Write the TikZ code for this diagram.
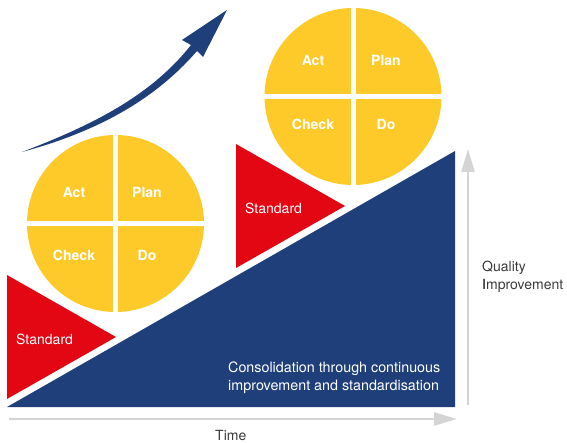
\documentclass[tikz,border=0pt]{standalone}
\usepackage{fontspec}
\setmainfont{TeX Gyre Heros}
\usetikzlibrary{arrows.meta,positioning}

\definecolor{pdcablue}{HTML}{1E3F7A}
\definecolor{pdcared}{HTML}{E30613}
\definecolor{pdcayellow}{HTML}{FDCA2A}
\definecolor{axisgray}{HTML}{D4D4D4}
\definecolor{labelgray}{HTML}{3A3A3A}

\begin{document}
\begin{tikzpicture}[x=1pt,y=-1pt,font=\fontsize{14}{18}\selectfont,
    cycle/.style={circle,fill=pdcayellow,minimum size=177pt,inner sep=0pt},
    quarter/.style={text=white,font=\fontsize{14}{16}\selectfont\bfseries,inner sep=0pt},
    gap/.style={white,line width=5pt},
    std/.style={text=white,anchor=west,inner sep=0pt},
    axis/.style={draw=axisgray,line width=2.6pt,-{Triangle[length=23pt,width=13pt]}},
    axislabel/.style={text=labelgray,anchor=west,align=left,inner sep=0pt}]
    \useasboundingbox (0,0) rectangle (567,443);

    \fill[pdcared]  (7,275) -- (116,337) -- (7,399) -- cycle;
    \fill[pdcared]  (236,144) -- (345,206) -- (236,268) -- cycle;
    \fill[pdcablue] (7,407) -- (455,151) -- (455,407) -- cycle;

    \fill[pdcablue] (22,152) .. controls (90,126) and (150,97) .. (191,45)
        -- (182,40) -- (227,10) -- (203,57) -- (197,51)
        .. controls (152,103) and (92,133) .. (22,152) -- cycle;

    \node[cycle] (cyc1) at (115.5,223.5) {};
    \node[cycle] (cyc2) at (353,96.5) {};
    \draw[gap] (cyc1.north) -- (cyc1.south);
    \draw[gap] (cyc1.west)  -- (cyc1.east);
    \draw[gap] (cyc2.north) -- (cyc2.south);
    \draw[gap] (cyc2.west)  -- (cyc2.east);

    \node[quarter] (act1)   at ([shift={(-41.5,-31.5)}]cyc1.center) {Act};
    \node[quarter] (plan1)  at ([shift={(31.5,-31.5)}]cyc1.center)  {Plan};
    \node[quarter] (check1) at ([shift={(-41.5,31.5)}]cyc1.center)  {Check};
    \node[quarter] (do1)    at ([shift={(31.5,31.5)}]cyc1.center)   {Do};
    \node[quarter] (act2)   at ([shift={(-40,-36.5)}]cyc2.center)   {Act};
    \node[quarter] (plan2)  at ([shift={(33,-36.5)}]cyc2.center)    {Plan};
    \node[quarter] (check2) at ([shift={(-40,27.5)}]cyc2.center)    {Check};
    \node[quarter] (do2)    at ([shift={(33,27.5)}]cyc2.center)     {Do};

    \node[std] (std1) at (16,339) {Standard};
    \node[std] (std2) at (245,208) {Standard};
    \node[std,align=left,font=\fontsize{14.3}{18}\selectfont] (consol) at (228,378)
        {Consolidation through continuous\\improvement and standardisation};

    \coordinate (torigin) at (9,419);
    \coordinate (tend)    at (457,419);
    \coordinate (qbase)   at (468,405);
    \coordinate (qtop)    at (468,149);
    \draw[axis] (torigin) -- (tend);
    \draw[axis] (qbase) -- (qtop);

    \node[axislabel] (time)    at (215,436) {Time};
    \node[axislabel] (quality) at (482,277) {Quality\\\textcolor{black}{I}mprovement};
\end{tikzpicture}
\end{document}
